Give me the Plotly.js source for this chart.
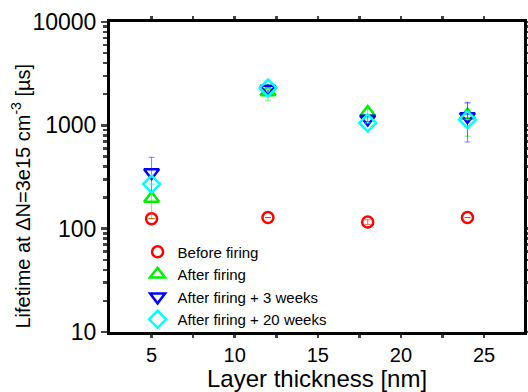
<!DOCTYPE html>
<html><head><meta charset="utf-8">
<script src="https://cdn.plot.ly/plotly-3.0.1.min.js"></script>
<style>body{margin:0;background:#fff}#c{width:528px;height:392px}</style>
</head><body><div id="c"></div>
<script>
const thickness = [5, 12, 18, 24];
const beforeFiring = [125, 128, 116, 128];
const beforeErrPlus = [0, 0, 6, 0];
const beforeErrMinus = [0, 0, 6, 0];
const afterFiring = [196, 2100, 1330, 1250];
const afterErrPlus = [30, 80, 100, 380];
const afterErrMinus = [70, 350, 150, 465];
const after3w = [350, 2250, 1150, 1220];
const after3wErrPlus = [140, 100, 80, 450];
const after3wErrMinus = [120, 150, 60, 530];
const after20w = [270, 2300, 1055, 1135];
const after20wErrPlus = [0, 0, 0, 0];
const after20wErrMinus = [0, 0, 0, 0];
const xTitle = 'Layer thickness [nm]';
const yTitle = 'Lifetime at \u0394N=3e15 cm<sup>-3</sup> [\u00b5s]';

function tr(name, y, ep, em, sym, col, ecol, size){
  return {x: thickness, y: y, name: name, type:'scatter', mode:'markers',
    marker:{symbol:sym, size:size, color:col, line:{width:2.5, color:col}},
    error_y:{type:'data', array:ep, arrayminus:em, visible:true, color:ecol, thickness:1, width:3}};
}
const data = [
  tr('Before firing', beforeFiring, beforeErrPlus, beforeErrMinus, 'circle-open', '#ff0000', 'rgba(255,0,0,0.6)', 11),
  tr('After firing', afterFiring, afterErrPlus, afterErrMinus, 'triangle-up-open', '#00ee00', 'rgba(0,220,0,0.5)', 13),
  tr('After firing + 3 weeks', after3w, after3wErrPlus, after3wErrMinus, 'triangle-down-open', '#0000ff', 'rgba(0,0,255,0.5)', 13),
  tr('After firing + 20 weeks', after20w, after20wErrPlus, after20wErrMinus, 'diamond-open', '#00ffff', 'rgba(0,255,255,0.5)', 13)
];
const layout = {
  width:528, height:392, margin:{l:110, r:4, t:22, b:60},
  paper_bgcolor:'#fff', plot_bgcolor:'#fff',
  font:{family:'Arial, Liberation Sans, sans-serif', color:'#000'},
  showlegend:true,
  legend:{x:0.0666, y:0.311, xanchor:'left', yanchor:'top', bgcolor:'rgba(0,0,0,0)',
    font:{size:15, color:'#000'}, tracegroupgap:0, itemwidth:30},
  xaxis:{range:[2.5, 27.4], tickvals:[5,10,15,20,25], ticks:'outside', ticklen:3, tickwidth:2.5,
    showline:true, linewidth:3, linecolor:'#000', mirror:'ticks', showgrid:false, zeroline:false,
    tickfont:{size:20}, minor:{tickvals:[7.5,12.5,17.5,22.5], ticks:'outside', ticklen:3, tickwidth:2.5}},
  yaxis:{type:'log', range:[1,4], tickvals:[10,100,1000,10000], ticktext:['10','100','1000','10000'],
    ticks:'outside', ticklen:6, tickwidth:2.5,
    showline:true, linewidth:3, linecolor:'#000', mirror:'ticks', showgrid:false, zeroline:false,
    tickfont:{size:23}, minor:{dtick:'D1', ticks:'outside', ticklen:4, tickwidth:2.5, showgrid:false}},
  annotations:[
    {text:xTitle, xref:'paper', yref:'paper', x:0.5, y:-0.1935, xanchor:'center', yanchor:'bottom',
     showarrow:false, borderpad:0, yshift:-1, font:{size:24, color:'#000'}},
    {text:yTitle, xref:'paper', yref:'paper', x:-0.215, y:0.44, xanchor:'center', yanchor:'middle',
     textangle:-90, showarrow:false, font:{size:20, color:'#000'}}
  ]
};
Plotly.newPlot('c', data, layout, {displayModeBar:false, staticPlot:true});
</script></body></html>
